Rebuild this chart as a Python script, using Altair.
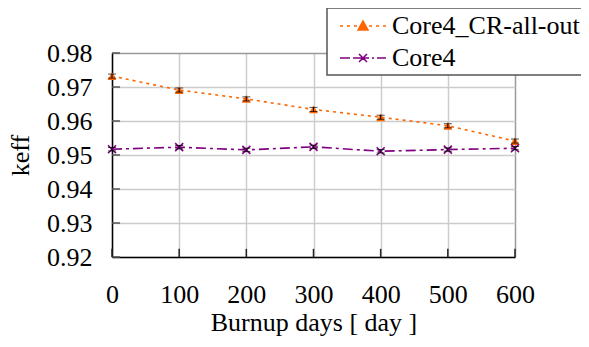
import math
import altair as alt
import pandas as pd

# ---- data ----
days = [0, 100, 200, 300, 400, 500, 600]
keff_cr_all_out = [0.9732, 0.9691, 0.9665, 0.9634, 0.9611, 0.9586, 0.9541]
keff_core4 = [0.9517, 0.9523, 0.9515, 0.9524, 0.9511, 0.9516, 0.9520]
err_cr_all_out = [0.0006, 0.0006, 0.0006, 0.0006, 0.0006, 0.0006, 0.0006]
err_core4 = [0.0005, 0.0005, 0.0005, 0.0005, 0.0005, 0.0005, 0.0005]
series_names = ["Core4_CR-all-out", "Core4"]
y_ticks = [0.92, 0.93, 0.94, 0.95, 0.96, 0.97, 0.98]
x_ticks = [0, 100, 200, 300, 400, 500, 600]

ORANGE = "#ff6600"
PURPLE = "#800080"
FONT = "Liberation Serif"

rows = []
for d, k, e in zip(days, keff_cr_all_out, err_cr_all_out):
    rows.append({"series": series_names[0], "day": d, "keff": k, "lo": k - e, "hi": k + e})
for d, k, e in zip(days, keff_core4, err_core4):
    rows.append({"series": series_names[1], "day": d, "keff": k, "lo": k - e, "hi": k + e})
df = pd.DataFrame(rows)
# tick-mark table: inner ticks on the left axis (y ticks) and the bottom axis (x ticks)
df_yt = pd.DataFrame({"day": [0] * len(y_ticks), "day2": [12] * len(y_ticks), "keff": y_ticks})
df_xt = pd.DataFrame({"day": x_ticks, "keff": [0.92] * len(x_ticks), "keff2": [0.9224] * len(x_ticks)})

# ---- legend symbols (line + marker glyphs) ----
LEG_SIZE = 676
LEG_K = math.sqrt(LEG_SIZE) / 2.0


def glyph(segs, extra):
    parts = []
    for a, b in segs:
        parts.append(f"M{a / LEG_K:.3f},0L{b / LEG_K:.3f},0")
    for pts, close in extra:
        p = "M" + "L".join(f"{x / LEG_K:.3f},{y / LEG_K:.3f}" for x, y in pts)
        parts.append(p + ("Z" if close else ""))
    return "".join(parts)


leg_tri = glyph(
    [(-23, -20), (-16, -13), (-9, -6), (6, 9), (13, 16), (20, 23)],
    [([(-5, 4), (0, -5), (5, 4)], True)],
)
leg_x = glyph(
    [(-23, -13), (-10, 6), (9, 11), (14, 23)],
    [([(-4, -4), (4, 4)], False), ([(-4, 4), (4, -4)], False)],
)
X_MARK = "M-1,-1L1,1M-1,1L1,-1"

xscale = alt.Scale(domain=[0, 600], nice=False)
yscale = alt.Scale(domain=[0.92, 0.98], nice=False, zero=False)
xaxis = alt.Axis(values=x_ticks, format="d", title="Burnup days [ day ]", ticks=False,
                 labelPadding=24, titlePadding=2, labelFlush=False, labelOverlap=False,
                 labelFont=FONT, titleFont=FONT, labelFontSize=26, titleFontSize=26,
                 gridColor={"condition": {"test": "datum.value >= 599", "value": "#9a9a9a"},
                            "value": "#cccccc"})
yaxis = alt.Axis(values=y_ticks, format=".2f", title="keff", ticks=False,
                 labelPadding=20, titlePadding=13, labelFlush=False, labelOverlap=False,
                 labelFont=FONT, titleFont=FONT, labelFontSize=26, titleFontSize=26,
                 gridColor={"condition": {"test": "datum.value >= 0.9799", "value": "#9a9a9a"},
                            "value": "#cccccc"})


def X(field="day"):
    return alt.X(f"{field}:Q", scale=xscale, axis=xaxis)


def Y(field="keff"):
    return alt.Y(f"{field}:Q", scale=yscale, axis=yaxis)


base = alt.Chart(df)
s0 = f"datum.series === '{series_names[0]}'"
s1 = f"datum.series === '{series_names[1]}'"

line_cr = base.transform_filter(s0).mark_line(
    color=ORANGE, strokeWidth=1.6, strokeDash=[3, 4]
).encode(x=X(), y=Y())
line_c4 = base.transform_filter(s1).mark_line(
    color=PURPLE, strokeWidth=1.6, strokeDash=[10, 4, 3, 4]
).encode(x=X(), y=Y())
pts_cr = base.transform_filter(s0).mark_point(
    shape="triangle-up", filled=True, color=ORANGE, size=80, opacity=1
).encode(x=X(), y=Y())
pts_c4 = base.transform_filter(s1).mark_point(
    shape=X_MARK, filled=False, color=PURPLE, size=64, opacity=1, strokeWidth=1.6
).encode(x=X(), y=Y())
errs = base.mark_errorbar(color="black", ticks={"size": 8, "thickness": 1}).encode(
    x=X(), y=Y("lo"), y2="hi:Q"
)

LEG = alt.Legend(title=None, orient="none", legendX=215, legendY=-45,
                 labelFont=FONT, labelFontSize=26)
legend_layer = base.transform_filter("datum.day < 0").mark_point(
    filled=True, opacity=1, size=LEG_SIZE, strokeWidth=1.5
).encode(
    x=X(), y=Y(),
    shape=alt.Shape("series:N", scale=alt.Scale(domain=series_names, range=[leg_tri, leg_x]), legend=LEG),
    fill=alt.Fill("series:N", scale=alt.Scale(domain=series_names, range=[ORANGE, PURPLE]), legend=LEG),
    stroke=alt.Stroke("series:N", scale=alt.Scale(domain=series_names, range=[ORANGE, PURPLE]), legend=LEG),
)

yticks_in = alt.Chart(df_yt).mark_rule(color="#555555", strokeWidth=1.5).encode(
    x=X(), x2="day2:Q", y=Y()
)
xticks_in = alt.Chart(df_xt).mark_rule(color="#222222", strokeWidth=1.5).encode(
    x=X(), y=Y(), y2="keff2:Q"
)

chart = alt.layer(
    line_cr, line_c4, pts_cr, pts_c4, errs, legend_layer, yticks_in, xticks_in
).properties(
    width=403,
    height=204,
    autosize=alt.AutoSizeParams(type="none"),
    padding={"left": 104, "top": 45, "right": 66, "bottom": 82},
    background="white",
).configure(font=FONT).configure_view(strokeWidth=0).configure_axis(
    labelFont=FONT, titleFont=FONT, labelFontSize=26, titleFontSize=26,
    labelColor="black", titleColor="black", titleFontWeight="normal",
    domainColor="black", domainWidth=1.5, gridWidth=1.5,
).configure_legend(
    labelFont=FONT, labelFontSize=26, labelColor="black", labelLimit=400,
    fillColor="white", strokeColor="#555555", strokeWidth=1.5,
    padding=4, rowPadding=5, symbolOffset=18, labelOffset=15,
    symbolSize=LEG_SIZE, symbolStrokeWidth=1.5,
)

chart.save("out.html", embed_options={"renderer": "svg", "actions": False})
